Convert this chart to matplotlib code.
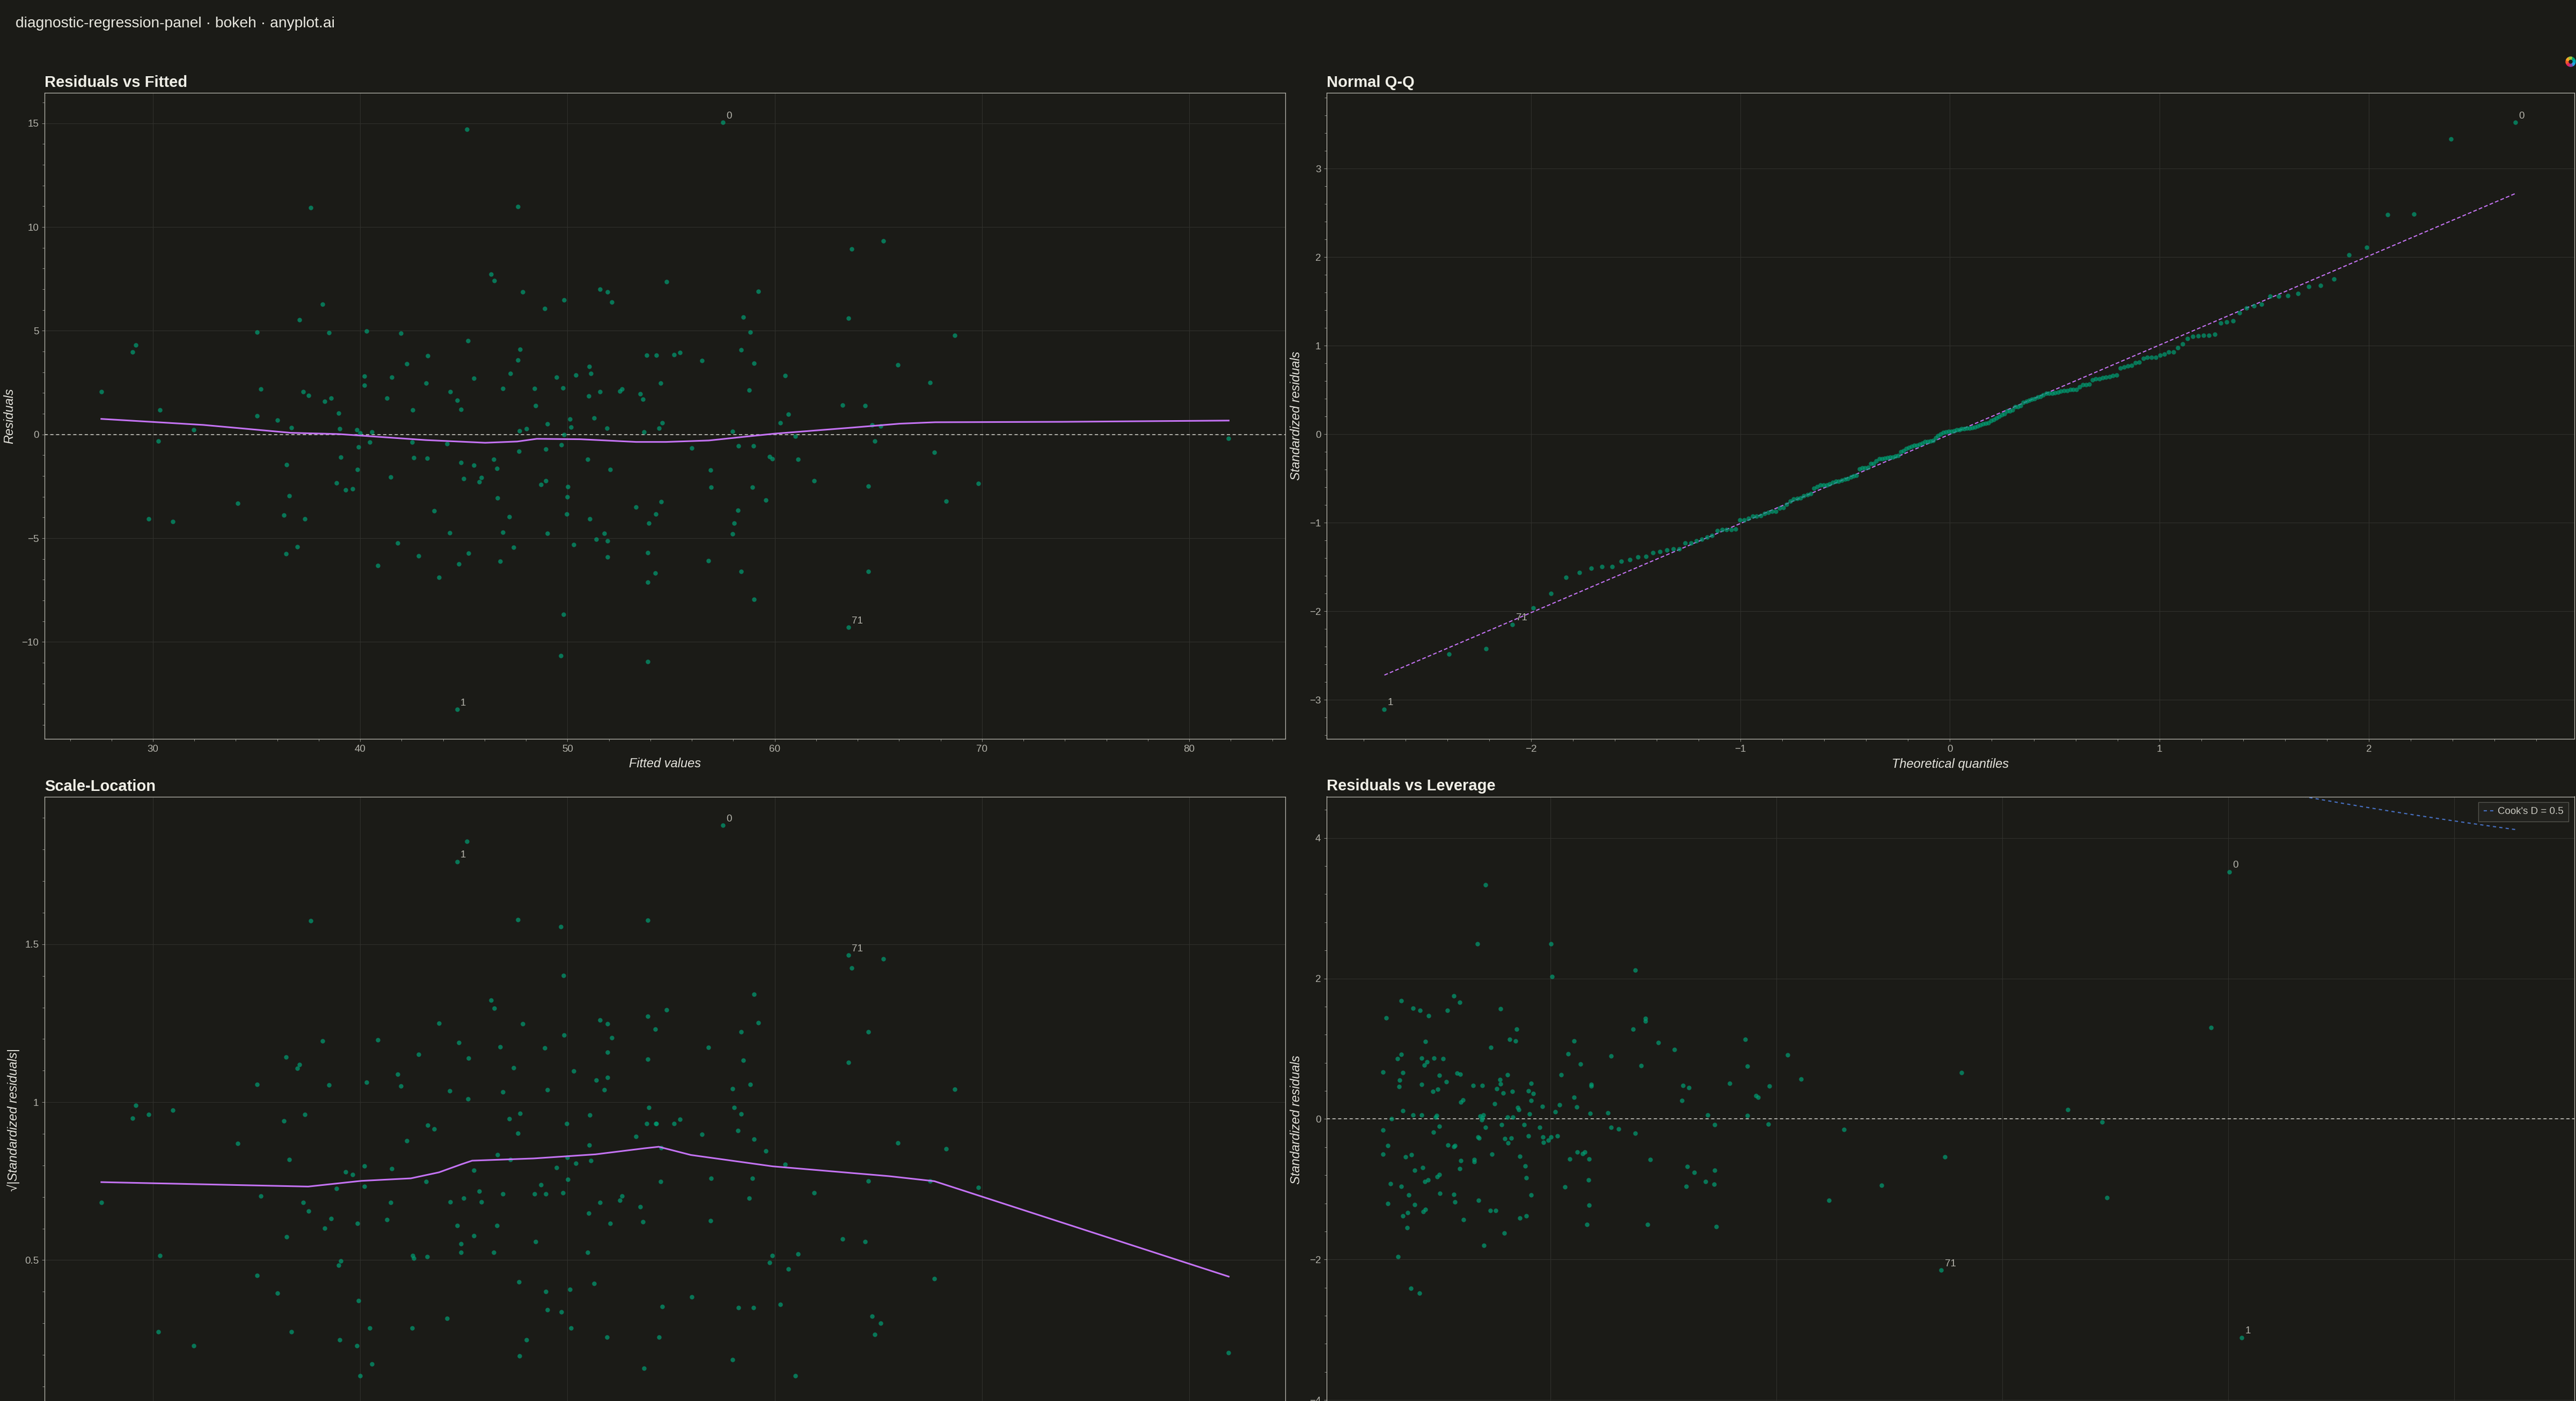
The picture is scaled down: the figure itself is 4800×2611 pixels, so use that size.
import numpy as np
import matplotlib
matplotlib.use("Agg")
import matplotlib.pyplot as plt
from matplotlib import ticker
from matplotlib.patches import Wedge
from statistics import NormalDist

# ---- data -----------------------------------------------------------------
# first three entries are the flagged observations "0", "1" and "71"
label_names = ["0", "1", "71"]

fitted = [
    57.49, 44.67, 63.56,
    27.51, 29.02, 29.16, 30.33, 30.27, 29.79, 30.96, 31.97, 34.10, 35.02,
    35.21, 35.02, 36.00, 36.67, 36.44, 36.57, 36.32, 37.32, 36.97, 36.42,
    37.61, 37.07, 38.18, 38.49, 37.26, 37.51, 38.28, 38.60, 38.95, 39.00,
    39.06, 38.85, 39.29, 39.62, 39.85, 40.00, 39.92, 39.87, 40.31, 40.19,
    40.19, 40.56, 40.46, 40.86, 41.30, 41.51, 41.48, 41.95, 42.24, 42.53,
    42.51, 42.59, 41.80, 42.82, 43.26, 43.18, 43.22, 43.56, 43.79, 45.15,
    44.35, 44.67, 44.87, 44.20, 44.87, 45.00, 44.31, 44.75, 45.23,
    45.19, 45.48, 45.48, 45.73, 45.84, 46.30, 46.48, 46.44, 46.59, 46.61,
    46.88, 46.88, 46.74, 47.20, 47.39, 47.24, 47.61, 47.85, 47.70, 47.61,
    47.68, 47.66, 48.01, 48.89, 48.41, 48.45, 49.04, 48.95, 48.95, 48.72,
    49.04, 49.48, 49.83, 49.79, 49.83, 49.71, 50.13, 50.17, 50.02, 49.98,
    49.96, 50.29, 49.81, 49.67, 50.40, 51.05, 51.13, 51.02, 51.28, 50.98,
    51.07, 51.57, 51.92, 52.15, 51.57, 51.90, 52.05, 51.78, 51.93, 51.38,
    51.92, 52.53, 52.62, 53.51, 53.64, 53.68, 53.83, 54.29, 54.50, 54.41,
    54.58, 53.31, 54.52, 54.25, 53.93, 53.87, 54.23, 53.87, 53.87, 54.77,
    55.13, 55.42, 56.48, 56.00, 56.90, 56.93, 56.80, 57.97, 58.26, 58.47,
    58.81, 58.39, 59.00, 58.77, 59.20, 58.98, 58.91, 58.22, 58.03, 57.97,
    58.39, 59.00, 59.58, 59.75, 59.87, 60.27, 60.50, 60.65, 61.00, 61.13,
    61.90, 63.28, 63.56, 63.72, 65.23, 64.37, 64.69, 65.11, 64.83, 64.52,
    64.52, 65.94, 67.49, 67.70, 68.28, 68.68, 69.81, 81.90,
]

residuals = [
    15.05, -13.26, -9.30,
    2.05, 3.98, 4.32, 1.17, -0.33, -4.07, -4.19, 0.23, -3.33, 4.92,
    2.18, 0.90, 0.69, 0.33, -1.45, -2.96, -3.90, -4.07, -5.41, -5.76,
    10.94, 5.53, 6.29, 4.90, 2.05, 1.89, 1.59, 1.76, 1.03, 0.27,
    -1.09, -2.33, -2.68, -2.62, 0.23, 0.08, -0.61, -1.68, 4.99, 2.81,
    2.37, 0.13, -0.36, -6.33, 1.74, 2.75, -2.05, 4.88, 3.40, 1.17,
    -0.36, -1.13, -5.22, -5.85, 3.79, 2.47, -1.15, -3.69, -6.89, 14.71,
    2.07, 1.64, 1.21, -0.44, -1.34, -2.14, -4.74, -6.24, -5.72,
    4.51, 2.72, -1.47, -2.28, -2.07, 7.73, 7.42, -1.21, -1.64, -3.06,
    2.22, -4.71, -6.10, -3.96, -5.43, 2.95, 10.98, 6.87, 4.11, 3.58,
    0.17, -0.82, 0.27, 6.06, 2.22, 1.38, 0.52, -0.71, -2.22, -2.41,
    -4.76, 2.77, 6.48, 2.24, 0.00, -0.50, 0.73, 0.36, -2.52, -3.00,
    -3.83, -5.32, -8.66, -10.67, 2.87, 3.29, 2.93, 1.86, 0.80, -1.21,
    -4.06, 7.00, 6.87, 6.39, 2.05, 0.29, -1.68, -4.76, -5.13, -5.05,
    -5.91, 2.10, 2.18, 1.97, 1.70, 0.11, 3.83, 3.83, 2.47, 0.29,
    0.55, -3.50, -3.23, -3.84, -4.27, -5.70, -6.68, -7.13, -10.96, 7.36,
    3.84, 3.94, 3.56, -0.65, -1.72, -2.54, -6.08, 0.15, -0.54, 5.66,
    4.92, 4.09, 3.44, 2.14, 6.91, -0.54, -2.54, -3.65, -4.27, -4.80,
    -6.60, -7.94, -3.16, -1.07, -1.17, 0.57, 2.85, 0.98, -0.08, -1.19,
    -2.24, 1.42, 5.60, 8.95, 9.32, 1.38, 0.46, 0.40, -0.31, -2.49,
    -6.60, 3.35, 2.49, -0.86, -3.21, 4.78, -2.35, -0.19,
]

# smoother curves as drawn in the reference
lowess_fit_x = [27.51, 32.43, 36.65, 38.95, 43.16, 46.03, 47.57, 48.52, 50.63,
                53.31, 54.75, 56.82, 58.54, 60.00, 63.72, 66.02, 67.74, 73.87, 81.90]
lowess_fit_y = [0.75, 0.46, 0.08, 0.02, -0.27, -0.40, -0.34, -0.21, -0.23,
                -0.36, -0.36, -0.29, -0.11, 0.04, 0.33, 0.52, 0.59, 0.61, 0.67]

lowess_sl_x = [27.51, 37.49, 40.05, 42.44, 43.80, 44.90, 45.40, 48.37, 51.35,
               53.70, 54.40, 55.95, 59.90, 65.50, 67.70, 81.90]
lowess_sl_y = [0.747, 0.733, 0.751, 0.759, 0.778, 0.804, 0.815, 0.822, 0.835,
               0.854, 0.859, 0.833, 0.797, 0.766, 0.750, 0.448]

# residual scale and leverage of the flagged points
resid_sd = 4.455
mean_leverage = 0.02
flagged_leverage = [0.0801, 0.0812, 0.0546]

qq_line_x = [-2.70, 2.70]
qq_line_y = [-2.72, 2.72]

# Residuals vs Leverage panel
leverage = [
    0.0801, 0.0812, 0.0546,
    0.01425, 0.01354, 0.02008, 0.02017, 0.02750, 0.00683, 0.00784, 0.00846, 0.00925, 0.00550,
    0.01148, 0.01196, 0.01089, 0.01557, 0.01704, 0.01642, 0.01693, 0.01472, 0.00894, 0.00680,
    0.00649, 0.00863, 0.00970, 0.01052, 0.00911, 0.00886, 0.00519, 0.00694, 0.00666, 0.00660,
    0.01018, 0.01080, 0.00863, 0.00962, 0.01004, 0.01176, 0.01202, 0.01227, 0.01210, 0.01317,
    0.01399, 0.01554, 0.01560, 0.01619, 0.01526, 0.01583, 0.01664, 0.01509, 0.01831, 0.01805,
    0.01850, 0.01831, 0.01709, 0.01721, 0.01817, 0.01929, 0.02042, 0.02082, 0.02096, 0.02158,
    0.02212, 0.02265, 0.02212, 0.02234, 0.02364, 0.02364, 0.02353, 0.02511, 0.02539, 0.02731,
    0.02841, 0.02841, 0.02956, 0.03100, 0.02804, 0.03173, 0.03224, 0.03164, 0.03391, 0.03453,
    0.03588, 0.03726, 0.03743, 0.03743, 0.03822, 0.03839, 0.03938, 0.03927, 0.04099, 0.04217,
    0.04601, 0.04468,
    0.00595, 0.00697, 0.00784, 0.00863, 0.00993, 0.00984, 0.01016, 0.00968, 0.00519, 0.00561,
    0.00519, 0.00719, 0.00773, 0.00801, 0.00869, 0.00584, 0.00680, 0.00745, 0.00561, 0.00801,
    0.00874, 0.00894, 0.00694, 0.00739, 0.00731, 0.00652, 0.00767, 0.00843, 0.00889, 0.00920,
    0.01001, 0.01018, 0.01024, 0.01094, 0.01145, 0.01157, 0.01207, 0.01199, 0.01145, 0.01157,
    0.01230, 0.01326, 0.01326, 0.01360, 0.01368, 0.01377, 0.01408, 0.01391, 0.01399, 0.01427,
    0.01484, 0.01365, 0.01467, 0.01515, 0.01410, 0.01591, 0.01571, 0.01622, 0.01667, 0.01599,
    0.01628, 0.01656, 0.01766, 0.01808, 0.01729, 0.01780, 0.01788, 0.01828, 0.01788, 0.01729,
    0.01907, 0.01935, 0.01938, 0.01980, 0.02006, 0.02062, 0.02130, 0.02172, 0.02237, 0.02288,
    0.02307, 0.02341, 0.02339, 0.02344, 0.02322, 0.02539, 0.02606, 0.02753, 0.02886, 0.02860,
    0.03210, 0.03275, 0.03202, 0.03374, 0.03453, 0.03450, 0.03467,
    0.04932, 0.05490, 0.05637, 0.06577, 0.06885, 0.06927, 0.07848,
]
lev_std_resid = [
    3.52, -3.11, -2.15,
    3.33, 2.49, 2.49, 2.03, 2.12, 1.68, 1.58, 1.55, 1.47, 1.44,
    1.75, 1.66, 1.55, 1.57, 1.28, 1.13, 1.11, 1.02, 1.10, 0.92,
    0.86, 0.87, 0.87, 0.86, 0.81, 0.77, 0.67, 0.66, 0.55, 0.46,
    0.62, 0.53, 0.49, 0.39, 0.42, 0.65, 0.64, 0.27, 0.24, 0.48,
    0.48, 0.56, 0.50, 0.63, 0.43, 0.37, 0.39, 0.22, 0.51, 0.40,
    0.36, 0.26, 0.16, 0.13, 0.07, 0.18, 0.10, 0.20, 0.63, 0.93,
    1.11, 0.78, 0.31, 0.17, 0.49, 0.47, 0.08, 0.09, 0.90, 1.28,
    1.43, 1.39, 1.09, 0.99, 0.76, 0.48, 0.45, 0.26, 0.06, -0.08,
    0.51, 1.13, 0.75, 0.05, 0.33, 0.31, 0.47, -0.07, 0.91, 0.57,
    -0.15, -1.16,
    0.00, 0.12, 0.06, 0.06, 0.05, 0.03, -0.10, -0.19, -0.16, -0.38,
    -0.50, -0.54, -0.51, -0.73, -0.69, -0.92, -0.96, -1.08, -1.20, -1.22,
    -1.32, -1.29, -1.38, -1.33, -1.55, -1.96, -2.41, -2.48, -0.89, -0.87,
    -0.82, -0.79, -1.06, -0.37, -0.39, -0.38, -0.59, -0.71, -1.07, -1.18,
    -1.43, -0.58, -0.61, -0.26, -0.27, 0.04, 0.06, -0.01, 0.02, -0.12,
    -0.50, -1.16, -1.30, -1.30, -1.80, -1.62, -0.08, 0.03, 0.03, -0.28,
    -0.34, -0.27, -0.08, -0.24, -0.53, -0.67, -0.84, -1.08, -1.38, -1.41,
    -0.12, -0.26, -0.33, -0.30, -0.26, -0.24, -0.97, -0.57, -0.47, -0.49,
    -0.47, -0.57, -0.87, -1.23, -1.50, -0.12, -0.14, -0.20, -0.58, -1.50,
    -0.68, -0.76, -0.96, -0.89, -0.73, -0.93, -1.53,
    -0.94, -0.54, 0.66, 0.13, -0.04, -1.12, 1.30,
]

cook_level = 0.5
n_params = 4
cook_h_max = 0.1055

# ---- derived diagnostics ------------------------------------------------------
fitted = np.array(fitted)
residuals = np.array(residuals)
n = len(residuals)
h_fit = np.full(n, mean_leverage)
h_fit[:len(flagged_leverage)] = flagged_leverage
std_resid = residuals / (resid_sd * np.sqrt(1 - h_fit))
sqrt_abs_std = np.sqrt(np.abs(std_resid))

# Filliben plotting positions for the normal Q-Q plot
probs = (np.arange(1, n + 1) - 0.3175) / (n + 0.365)
probs[-1] = 0.5 ** (1 / n)
probs[0] = 1 - probs[-1]
theo_q = np.array([NormalDist().inv_cdf(p) for p in probs])
order = np.argsort(std_resid)
sample_q = std_resid[order]

h_grid = np.linspace(0.001, cook_h_max, 300)
cook_curve = np.sqrt(cook_level * n_params * (1 - h_grid) / h_grid)

# ---- style -----------------------------------------------------------------------
W, H = 4800, 2611
BG = "#1B1B17"
GRID = "#30302C"
SPINE = "#BDBCB4"
TICK_LBL = "#B3B2AA"
TITLE_C = "#EFEEE6"
LABEL_C = "#E4E3DC"
POINT_C = "#009E73"
SMOOTH_C = "#C473F5"
COOK_C = "#466EBE"
ZERO_C = "#B0AFA8"

plt.rcParams["font.family"] = ["Liberation Sans", "DejaVu Sans"]
plt.rcParams["lines.scale_dashes"] = False

fig = plt.figure(figsize=(W / 100, H / 100), dpi=100, facecolor=BG)


def box(left, top, right, bottom):
    return [left / W, 1 - bottom / H, (right - left) / W, (bottom - top) / H]


def fx(x):
    return x / W


def fy(y):
    return 1 - y / H


fmt = ticker.FuncFormatter(lambda v, _: f"{v:g}".replace("-", "\u2212"))


def style(ax, title):
    ax.set_facecolor(BG)
    for s in ax.spines.values():
        s.set_color(SPINE)
        s.set_linewidth(0.9)
    ax.grid(True, which="major", color=GRID, linewidth=0.8)
    ax.set_axisbelow(True)
    ax.tick_params(which="both", direction="out", color="#8E8D86",
                   labelcolor=TICK_LBL, labelsize=13.5, width=0.7)
    ax.tick_params(which="major", length=3.6, pad=4.3)
    ax.tick_params(which="minor", length=2.9)
    ax.xaxis.set_major_formatter(fmt)
    ax.yaxis.set_major_formatter(fmt)
    ax.annotate(title, xy=(0, 1), xycoords="axes fraction", xytext=(0, 8),
                textcoords="offset points", ha="left", va="baseline",
                fontsize=21, fontweight="bold", color=TITLE_C)


def points(ax, x, y):
    ax.scatter(x, y, s=37, color=POINT_C, alpha=0.7, linewidths=0, zorder=3)


def flag(ax, x, y):
    for name, xi, yi in zip(label_names, x, y):
        ax.annotate(name, xy=(xi, yi), xytext=(4.5, 8.5), textcoords="offset points",
                    ha="left", va="center", fontsize=13.5, color=TICK_LBL, zorder=4)


fig.text(fx(29), fy(44), "diagnostic-regression-panel \u00b7 bokeh \u00b7 anyplot.ai",
         ha="left", va="center", fontsize=20.3, color="#E8E7DF")

# ---- Residuals vs Fitted -------------------------------------------------------
ax1 = fig.add_axes(box(83.4, 173.3, 2394.9, 1376.9))
style(ax1, "Residuals vs Fitted")
ax1.set_xlim(24.78, 84.63)
ax1.set_ylim(-14.67, 16.46)
ax1.xaxis.set_major_locator(ticker.MultipleLocator(10))
ax1.xaxis.set_minor_locator(ticker.MultipleLocator(2))
ax1.yaxis.set_major_locator(ticker.MultipleLocator(5))
ax1.yaxis.set_minor_locator(ticker.MultipleLocator(1))
ax1.axhline(0, color=ZERO_C, linewidth=1.4, dashes=(4.3, 3.4), zorder=2)
points(ax1, fitted, residuals)
ax1.plot(lowess_fit_x, lowess_fit_y, color=SMOOTH_C, linewidth=2.2, zorder=4)
flag(ax1, fitted[:3], residuals[:3])

# ---- Normal Q-Q ---------------------------------------------------------------------
ax2 = fig.add_axes(box(2472.3, 173.3, 4796.5, 1376.9))
style(ax2, "Normal Q-Q")
ax2.set_xlim(-2.975, 2.98)
ax2.set_ylim(-3.44, 3.855)
ax2.xaxis.set_major_locator(ticker.MultipleLocator(1))
ax2.xaxis.set_minor_locator(ticker.MultipleLocator(0.2))
ax2.yaxis.set_major_locator(ticker.MultipleLocator(1))
ax2.yaxis.set_minor_locator(ticker.MultipleLocator(0.2))
ax2.plot(qq_line_x, qq_line_y, color=SMOOTH_C, linewidth=1.5, dashes=(5, 2.9), zorder=2)
points(ax2, theo_q, sample_q)
qq_pos = [int(np.where(order == k)[0][0]) for k in range(len(label_names))]
flag(ax2, theo_q[qq_pos], sample_q[qq_pos])

# ---- Scale-Location (lower part runs past the bottom edge, as in the reference) -----
ax3 = fig.add_axes(box(83.4, 1485, 2394.9, 2689))
style(ax3, "Scale-Location")
ax3.set_xlim(24.78, 84.63)
ax3.set_ylim(-0.0785, 1.967)
ax3.xaxis.set_major_locator(ticker.MultipleLocator(10))
ax3.xaxis.set_minor_locator(ticker.MultipleLocator(2))
ax3.yaxis.set_major_locator(ticker.FixedLocator([0.5, 1.0, 1.5]))
ax3.yaxis.set_minor_locator(ticker.MultipleLocator(0.1))
ax3.tick_params(axis="x", labelbottom=False)
points(ax3, fitted, sqrt_abs_std)
ax3.plot(lowess_sl_x, lowess_sl_y, color=SMOOTH_C, linewidth=2.2, zorder=4)
flag(ax3, fitted[:3], sqrt_abs_std[:3])

# ---- Residuals vs Leverage ---------------------------------------------------------
ax4 = fig.add_axes(box(2472.3, 1484.5, 4796.5, 2689))
style(ax4, "Residuals vs Leverage")
ax4.set_xlim(0.00022, 0.1106)
ax4.set_ylim(-4.61, 4.59)
ax4.xaxis.set_major_locator(ticker.MultipleLocator(0.02))
ax4.xaxis.set_minor_locator(ticker.MultipleLocator(0.004))
ax4.yaxis.set_major_locator(ticker.MultipleLocator(2))
ax4.yaxis.set_minor_locator(ticker.MultipleLocator(0.4))
ax4.tick_params(axis="x", labelbottom=False)
ax4.axhline(0, color=ZERO_C, linewidth=1.4, dashes=(4.3, 3.4), zorder=2)
ax4.plot(h_grid, cook_curve, color=COOK_C, linewidth=1.6, dashes=(4.3, 4.3),
         label=f"Cook's D = {cook_level:g}", zorder=2)
ax4.plot(h_grid, -cook_curve, color=COOK_C, linewidth=1.6, dashes=(4.3, 4.3), zorder=2)
points(ax4, leverage, lev_std_resid)
flag(ax4, leverage[:3], lev_std_resid[:3])
leg = ax4.legend(loc="upper right", fontsize=13.5, handlelength=1.0, handletextpad=0.4,
                 borderpad=0.5, borderaxespad=0.55, fancybox=False, framealpha=1,
                 facecolor="#22221E", edgecolor="#55554F", labelcolor="#C8C7BF")
leg.get_frame().set_linewidth(1.0)

# ---- axis labels ------------------------------------------------------------------------
lab = dict(fontsize=17, style="italic", color=LABEL_C, ha="center", va="center")
fig.text(fx(18), fy(775), "Residuals", rotation=90, **lab)
fig.text(fx(1239), fy(1424), "Fitted values", **lab)
fig.text(fx(2415), fy(775), "Standardized residuals", rotation=90, **lab)
fig.text(fx(3634), fy(1424), "Theoretical quantiles", **lab)
fig.text(fx(25), fy(2087), "\u221a|Standardized residuals|", rotation=90, **lab)
fig.text(fx(2415), fy(2087), "Standardized residuals", rotation=90, **lab)

# ---- small logo mark, top right ----------------------------------------------------------
logo = fig.add_axes(box(4778, 103, 4802, 127))
logo.set_xlim(-12, 12)
logo.set_ylim(-12, 12)
logo.set_aspect("equal")
logo.axis("off")
logo_colors = ["#009E73", "#00A6B8", "#2B9FE0", "#8E3FA2",
               "#E0245E", "#F05A28", "#F5A623", "#9BC53D"]
for i, c in enumerate(logo_colors):
    start = 90 - 45 * i - 22
    logo.add_patch(Wedge((0, 0), 9, start - 40, start, width=4.5, color=c))

fig.savefig("out.png", dpi=100, facecolor=BG)
